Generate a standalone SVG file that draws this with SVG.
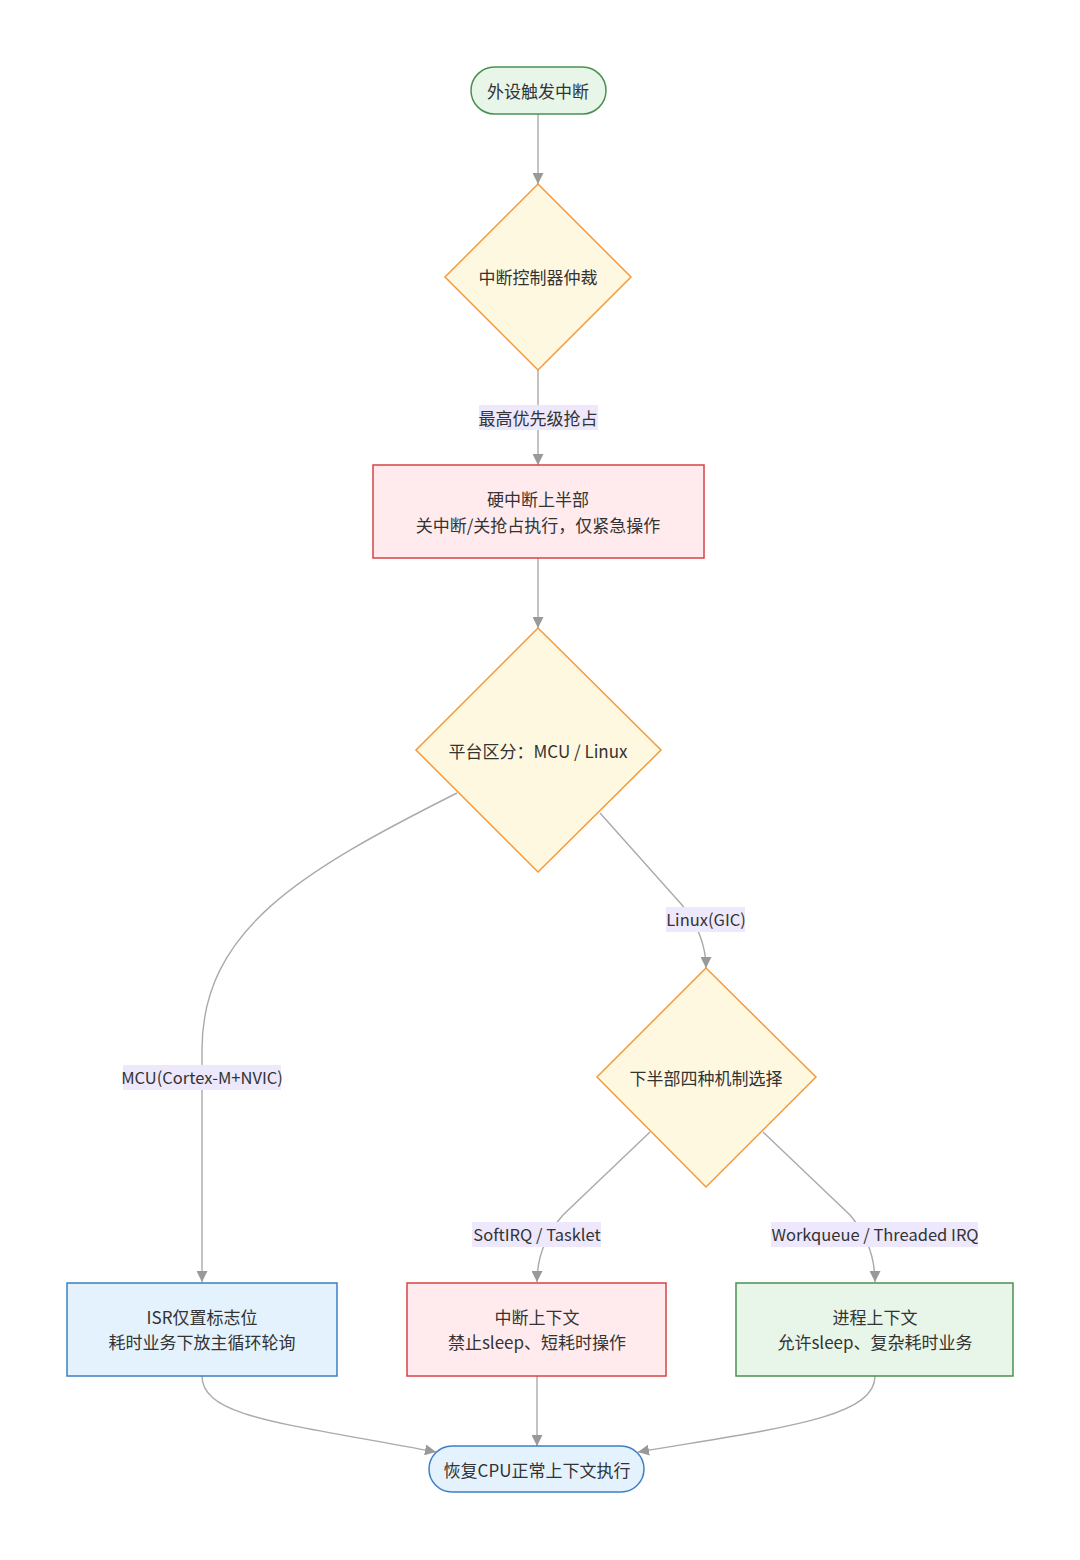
<svg xmlns="http://www.w3.org/2000/svg" width="1080" height="1560" viewBox="0 0 1080 1560">
<defs>
<marker id="arr" viewBox="0 0 10 10" refX="10" refY="5" markerWidth="11" markerHeight="11" markerUnits="userSpaceOnUse" orient="auto">
<path d="M0,0 L10,5 L0,10 z" fill="#999"/>
</marker>
<style>
text{font-family:"Noto Sans CJK SC","Noto Sans",sans-serif;font-size:17px;fill:#333;text-anchor:middle;dominant-baseline:central}
.lt{font-size:16.5px}
.edge{fill:none;stroke:#aaa;stroke-width:1.4;marker-end:url(#arr)}
.lbl{fill:#ede8fb}
.dia{fill:#fff8e1;stroke:#f39a3c;stroke-width:1.5}
.red{fill:#ffebee;stroke:#d84343;stroke-width:1.5}
.blue{fill:#e3f2fd;stroke:#3d7fc4;stroke-width:1.5}
.green{fill:#e8f5e9;stroke:#4a9150;stroke-width:1.5}
</style>
</defs>
<rect width="1080" height="1560" fill="#fff"/>
<g id="edges">
<path class="edge" d="M538,114 L538,184"/>
<path class="edge" d="M538,370 L538,465"/>
<path class="edge" d="M538,558 L538,628"/>
<path class="edge" d="M457,793 C300,872 202,930 202,1050 L202,1282"/>
<path class="edge" d="M600,813 L682,905 Q706,935 706,968"/>
<path class="edge" d="M650,1132 L563,1215 Q537,1245 537,1282"/>
<path class="edge" d="M763,1132 L850,1215 Q875,1245 875,1282"/>
<path class="edge" d="M202,1376 C202,1418 290,1424 436,1452"/>
<path class="edge" d="M537,1376 L537,1446"/>
<path class="edge" d="M875,1376 C875,1418 780,1428 638,1452"/>
<rect class="lbl" x="479" y="405" width="119" height="25"/>
<text x="538" y="417">最高优先级抢占</text>
<rect class="lbl" x="123" y="1065" width="158" height="25"/>
<text class="lt" x="202" y="1077">MCU(Cortex-M+NVIC)</text>
<rect class="lbl" x="666" y="907" width="79" height="25"/>
<text class="lt" x="706" y="919">Linux(GIC)</text>
<rect class="lbl" x="472" y="1222" width="129" height="25"/>
<text class="lt" x="537" y="1234">SoftIRQ / Tasklet</text>
<rect class="lbl" x="771" y="1222" width="207" height="25"/>
<text class="lt" x="875" y="1234">Workqueue / Threaded IRQ</text>
</g>
<g id="start">
<rect class="green" x="471" y="67" width="135" height="47" rx="23.5"/>
<text x="538" y="90">外设触发中断</text>
</g>
<g id="arbiter">
<polygon class="dia" points="538,184 631,277 538,370 445,277"/>
<text x="538" y="276">中断控制器仲裁</text>
</g>
<g id="tophalf">
<rect class="red" x="373" y="465" width="331" height="93"/>
<text x="538" y="498">硬中断上半部</text>
<text x="538" y="524">关中断/关抢占执行，仅紧急操作</text>
</g>
<g id="platform">
<polygon class="dia" points="538,628 661,750 538,872 416,750"/>
<text x="538" y="750">平台区分：MCU / Linux</text>
</g>
<g id="bottomhalf">
<polygon class="dia" points="706,968 816,1077 706,1187 597,1077"/>
<text x="706" y="1077">下半部四种机制选择</text>
</g>
<g id="isr">
<rect class="blue" x="67" y="1283" width="270" height="93"/>
<text x="202" y="1316">ISR仅置标志位</text>
<text x="202" y="1341">耗时业务下放主循环轮询</text>
</g>
<g id="irqctx">
<rect class="red" x="407" y="1283" width="259" height="93"/>
<text x="537" y="1316">中断上下文</text>
<text x="537" y="1341">禁止sleep、短耗时操作</text>
</g>
<g id="procctx">
<rect class="green" x="736" y="1283" width="277" height="93"/>
<text x="875" y="1316">进程上下文</text>
<text x="875" y="1341">允许sleep、复杂耗时业务</text>
</g>
<g id="end">
<rect class="blue" x="429" y="1446" width="215" height="46" rx="23"/>
<text x="537" y="1469">恢复CPU正常上下文执行</text>
</g>
</svg>
